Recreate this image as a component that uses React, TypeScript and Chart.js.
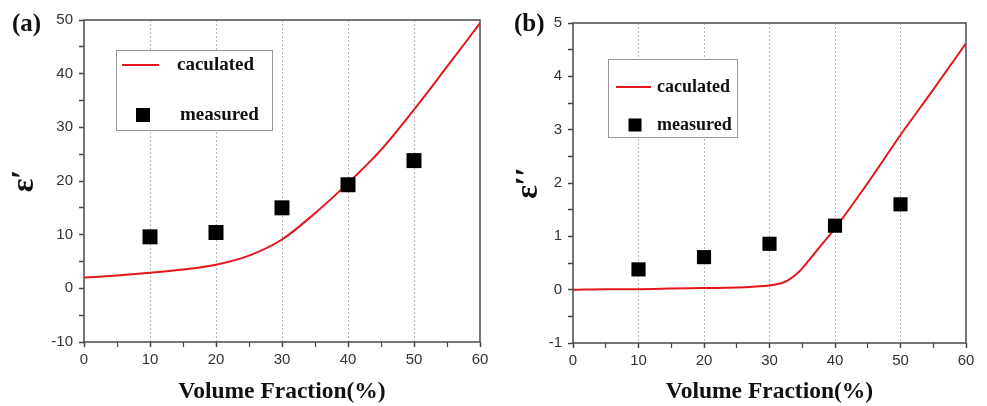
import React, { useEffect, useRef } from "react";
import { Chart, registerables } from "chart.js";

Chart.register(...registerables);

// ---------- data ----------
const measuredX = [10, 20, 30, 40, 50];
const measuredA = [9.6, 10.4, 15.0, 19.3, 23.8];
const measuredB = [0.38, 0.61, 0.86, 1.2, 1.6];

const curveXA = [0, 5, 10, 15, 20, 25, 30, 35, 40, 45, 50, 55, 60];
const calculatedA = [2.0, 2.4, 2.9, 3.5, 4.4, 6.1, 9.1, 14.0, 19.6, 25.8, 33.3, 41.3, 49.4];

const curveXB = [0, 5, 10, 15, 20, 25, 28, 30, 32, 33, 34, 35, 36, 37, 38, 40, 45, 50, 55, 60];
const calculatedB = [0.0, 0.01, 0.01, 0.02, 0.03, 0.04, 0.06, 0.08, 0.13, 0.19, 0.28, 0.4, 0.55, 0.7, 0.85, 1.15, 2.0, 2.9, 3.75, 4.62];

const xTitle = "Volume Fraction(%)";
const seriesLabels = ["caculated", "measured"];

type PanelSpec = {
  width: number;
  panelLabel: string;
  yTitle: string;
  curveX: number[];
  curveY: number[];
  measY: number[];
  yMin: number;
  yMax: number;
  yStep: number;
  yMajor: number;
  layout: { left: number; right: number; top: number; yAxisW: number; xAxisH: number };
  yTitlePad: number;
  labelPos: { x: number; y: number };
  legend: {
    dx: number; dy: number; w: number; h: number;
    lineX1: number; lineX2: number; lineY: number; text1X: number;
    markX: number; markY: number; markS: number; text2X: number;
    font: number;
  };
  pointR: number;
};

const decorPlugin = {
  id: "decor",
  beforeDatasetsDraw(chart: any) {
    const { ctx, chartArea: a } = chart;
    ctx.save();
    ctx.strokeStyle = "#4a4a4a";
    ctx.lineWidth = 1.5;
    ctx.strokeRect(a.left, a.top, a.right - a.left, a.bottom - a.top);
    ctx.restore();
  },
  afterDraw(chart: any, _args: any, opts: any) {
    const { ctx, chartArea: a } = chart;
    const spec: PanelSpec = opts.spec;
    ctx.save();
    // panel label
    ctx.font = 'bold 25px "Liberation Serif"';
    ctx.fillStyle = "#111";
    ctx.textBaseline = "middle";
    ctx.textAlign = "left";
    ctx.fillText(spec.panelLabel, spec.labelPos.x, spec.labelPos.y);
    // legend
    const L = spec.legend;
    const bx = a.left + L.dx;
    const by = a.top + L.dy;
    ctx.fillStyle = "#fff";
    ctx.fillRect(bx, by, L.w, L.h);
    ctx.strokeStyle = "#999";
    ctx.lineWidth = 1;
    ctx.strokeRect(bx + 0.5, by + 0.5, L.w, L.h);
    const ds0 = chart.data.datasets[0];
    const ds1 = chart.data.datasets[1];
    ctx.strokeStyle = ds0.borderColor;
    ctx.lineWidth = 2;
    ctx.beginPath();
    ctx.moveTo(bx + L.lineX1, by + L.lineY);
    ctx.lineTo(bx + L.lineX2, by + L.lineY);
    ctx.stroke();
    ctx.fillStyle = "#111";
    ctx.font = `bold ${L.font}px "Liberation Serif"`;
    ctx.fillText(ds0.label, bx + L.text1X, by + L.lineY);
    ctx.fillStyle = ds1.backgroundColor;
    ctx.fillRect(bx + L.markX - L.markS / 2, by + L.markY - L.markS / 2, L.markS, L.markS);
    ctx.fillStyle = "#111";
    ctx.fillText(ds1.label, bx + L.text2X, by + L.markY);
    ctx.restore();
  },
};

function buildConfig(spec: PanelSpec): any {
  const lay = spec.layout;
  return {
    type: "scatter",
    data: {
      datasets: [
        {
          label: seriesLabels[0],
          data: spec.curveX.map((x, i) => ({ x, y: spec.curveY[i] })),
          showLine: true,
          borderColor: "#e3161c",
          borderWidth: 2,
          pointRadius: 0,
          cubicInterpolationMode: "monotone",
          order: 2,
        },
        {
          label: seriesLabels[1],
          data: measuredX.map((x, i) => ({ x, y: spec.measY[i] })),
          showLine: false,
          pointStyle: "rect",
          pointRadius: spec.pointR,
          backgroundColor: "#000",
          borderColor: "#000",
          borderWidth: 0,
          order: 1,
        },
      ],
    },
    options: {
      responsive: false,
      animation: false,
      layout: { padding: { left: lay.left, right: lay.right, top: lay.top, bottom: 0 } },
      plugins: {
        legend: { display: false },
        tooltip: { enabled: false },
        decor: { spec },
      },
      scales: {
        x: {
          type: "linear",
          min: 0,
          max: 60,
          afterFit: (s: any) => { s.height = lay.xAxisH; },
          ticks: {
            stepSize: 5,
            autoSkip: false,
            maxRotation: 0,
            padding: 4,
            color: "#333",
            font: { family: '"Liberation Sans"', size: 15 },
            callback: (v: number) => (v % 10 === 0 ? String(v) : ""),
          },
          grid: {
            drawOnChartArea: true,
            drawTicks: true,
            tickLength: 5,
            lineWidth: 1,
            color: (c: any) => {
              const v = c.tick ? c.tick.value : 0;
              return v % 10 === 0 && v > 0 && v < 60 ? "#b5b5b5" : "rgba(0,0,0,0)";
            },
            tickColor: "#444",
            tickWidth: (c: any) => (c.tick && c.tick.value % 10 === 0 ? 1.5 : 1.2),
          },
          border: { display: false, dash: [2, 2] },
          title: {
            display: true,
            text: xTitle,
            color: "#111",
            font: { family: '"Liberation Serif"', size: 23.5, weight: "bold" },
            padding: { top: 1, bottom: 0 },
          },
        },
        y: {
          type: "linear",
          min: spec.yMin,
          max: spec.yMax,
          afterFit: (s: any) => { s.width = lay.yAxisW; },
          ticks: {
            stepSize: spec.yStep,
            autoSkip: false,
            padding: 6,
            color: "#333",
            font: { family: '"Liberation Sans"', size: 15 },
            callback: (v: number) => {
              const r = Math.round(v / spec.yMajor);
              return Math.abs(v - r * spec.yMajor) < 1e-6 ? String(Math.round(v)) : "";
            },
          },
          grid: {
            drawOnChartArea: false,
            drawTicks: true,
            tickLength: 5,
            tickColor: "#444",
            tickWidth: 1.5,
          },
          border: { display: false },
          title: {
            display: true,
            text: spec.yTitle,
            color: "#111",
            font: { family: '"Liberation Serif"', size: 32, weight: "bold" },
            padding: { top: spec.yTitlePad, bottom: 0 },
          },
        },
      },
    },
    plugins: [decorPlugin],
  };
}

const panelA: PanelSpec = {
  width: 493,
  panelLabel: "(a)",
  yTitle: "ε′",
  curveX: curveXA,
  curveY: calculatedA,
  measY: measuredA,
  yMin: -10,
  yMax: 50,
  yStep: 5,
  yMajor: 10,
  layout: { left: 0, right: 13, top: 20, yAxisW: 84, xAxisH: 64 },
  yTitlePad: 6,
  labelPos: { x: 12, y: 25 },
  legend: {
    dx: 32, dy: 30, w: 156, h: 80,
    lineX1: 6, lineX2: 43, lineY: 15, text1X: 61,
    markX: 27, markY: 65, markS: 14, text2X: 64,
    font: 19,
  },
  pointR: 10.6,
};

const panelB: PanelSpec = {
  width: 494,
  panelLabel: "(b)",
  yTitle: "ε′′",
  curveX: curveXB,
  curveY: calculatedB,
  measY: measuredB,
  yMin: -1,
  yMax: 5,
  yStep: 0.5,
  yMajor: 1,
  layout: { left: 0, right: 21, top: 23, yAxisW: 80, xAxisH: 63 },
  yTitlePad: 17,
  labelPos: { x: 21, y: 25 },
  legend: {
    dx: 35, dy: 36, w: 129, h: 78,
    lineX1: 8, lineX2: 43, lineY: 28, text1X: 49,
    markX: 27, markY: 66, markS: 13, text2X: 49,
    font: 18,
  },
  pointR: 10,
};

function Panel({ spec, left }: { spec: PanelSpec; left: number }) {
  const ref = useRef<HTMLCanvasElement | null>(null);
  useEffect(() => {
    if (!ref.current) return;
    const chart = new Chart(ref.current, buildConfig(spec));
    return () => chart.destroy();
  }, [spec]);
  return (
    <canvas
      ref={ref}
      width={spec.width}
      height={406}
      style={{ position: "absolute", left, top: 0, width: spec.width, height: 406, display: "block" }}
    />
  );
}

export default function App() {
  return (
    <div style={{ position: "fixed", left: 0, top: 0, width: 987, height: 406, background: "#fff", overflow: "hidden" }}>
      <Panel spec={panelA} left={0} />
      <Panel spec={panelB} left={493} />
    </div>
  );
}
